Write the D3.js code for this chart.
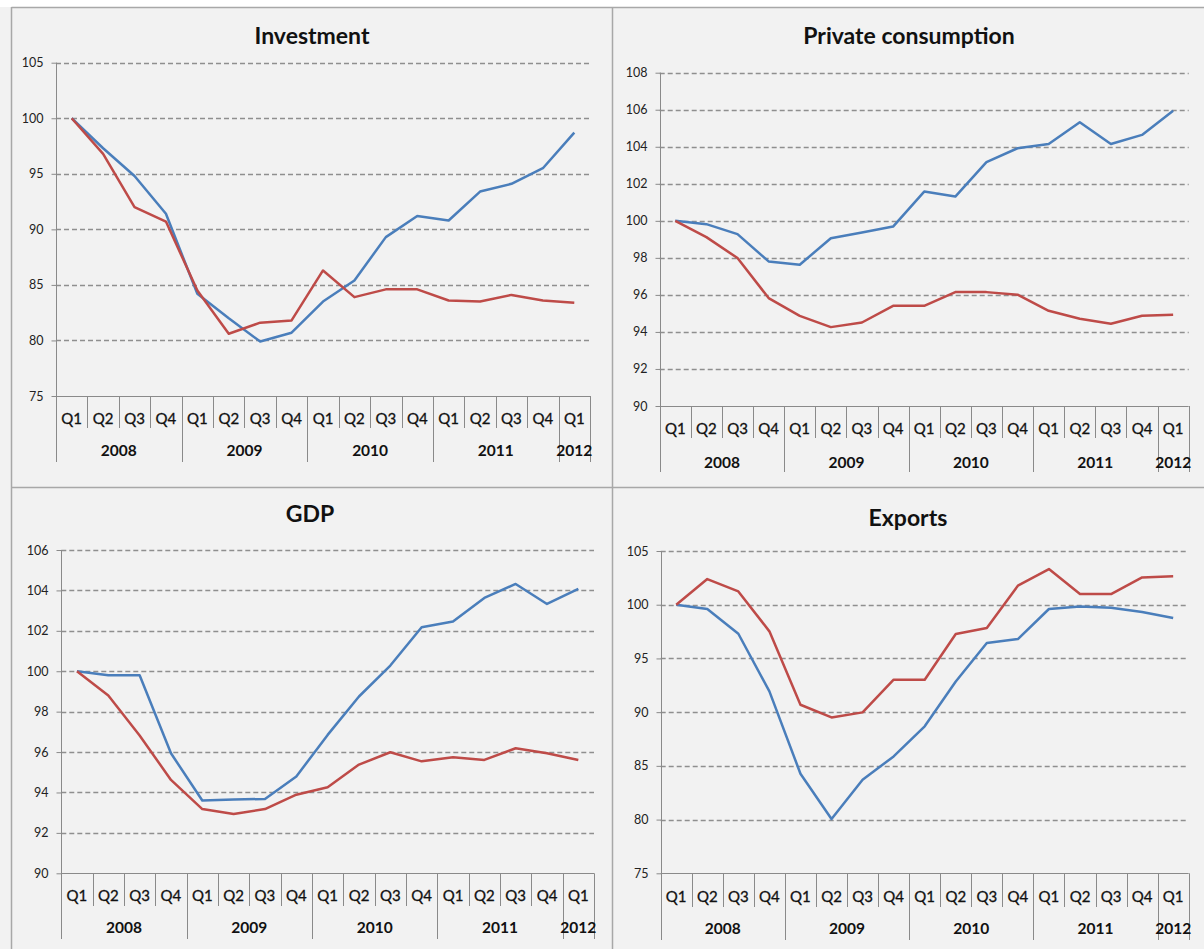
<!DOCTYPE html>
<html lang="en">
<head>
  <meta charset="UTF-8" />
  <title>Investment, consumption, GDP, exports</title>
  <script src="https://d3js.org/d3.v7.min.js"></script>
  <style>
    body { margin: 0; background: #fff; }
    svg { display: block; }
  </style>
</head>
<body>
  <svg id="mySvg" width="1204" height="949"></svg>

  <script>
    // quarters 2008Q1 .. 2012Q1
    const quarters = ["Q1","Q2","Q3","Q4","Q1","Q2","Q3","Q4","Q1","Q2","Q3","Q4","Q1","Q2","Q3","Q4","Q1"];
    const years = ["2008", "2009", "2010", "2011", "2012"];
    const quartersPerYear = [4, 4, 4, 4, 1];

    const investmentTicks = [75, 80, 85, 90, 95, 100, 105];
    const investmentBlue = [100, 97.3, 94.8, 91.4, 84.2, 82.0, 79.9, 80.7, 83.5, 85.4, 89.3, 91.2, 90.8, 93.4, 94.1, 95.5, 98.7];
    const investmentRed  = [100, 96.8, 92.0, 90.7, 84.5, 80.6, 81.6, 81.8, 86.3, 83.9, 84.6, 84.6, 83.6, 83.5, 84.1, 83.6, 83.4];

    const consumptionTicks = [90, 92, 94, 96, 98, 100, 102, 104, 106, 108];
    const consumptionBlue = [100, 99.82, 99.28, 97.81, 97.63, 99.06, 99.37, 99.69, 101.58, 101.31, 103.17, 103.92, 104.15, 105.32, 104.15, 104.64, 105.94];
    const consumptionRed  = [100, 99.12, 97.99, 95.83, 94.87, 94.26, 94.51, 95.41, 95.41, 96.15, 96.15, 96.01, 95.14, 94.71, 94.44, 94.87, 94.93];

    const gdpTicks = [90, 92, 94, 96, 98, 100, 102, 104, 106];
    const gdpBlue = [100, 99.8, 99.8, 95.94, 93.6, 93.65, 93.68, 94.79, 96.85, 98.75, 100.28, 102.18, 102.46, 103.63, 104.32, 103.33, 104.08];
    const gdpRed  = [100, 98.8, 96.82, 94.62, 93.18, 92.94, 93.18, 93.89, 94.26, 95.38, 95.99, 95.54, 95.74, 95.61, 96.19, 95.94, 95.61];

    const exportsTicks = [75, 80, 85, 90, 95, 100, 105];
    const exportsBlue = [100, 99.6, 97.3, 91.93, 84.27, 80.05, 83.71, 85.88, 88.68, 92.86, 96.43, 96.8, 99.6, 99.84, 99.72, 99.32, 98.76];
    const exportsRed  = [100, 102.39, 101.24, 97.52, 90.69, 89.51, 89.98, 93.02, 93.02, 97.27, 97.83, 101.77, 103.32, 100.99, 100.99, 102.54, 102.64];

    const blue = "#4a7ebb";
    const red = "#be4b48";
    const axisColor = "#8a8a8a";
    const borderColor = "#a8a8a8";

    const svg = d3.select("#mySvg");

    // background + panel borders
    svg.append("rect").attr("x", 0).attr("y", 7).attr("width", 1204).attr("height", 942).attr("fill", "#f2f2f2");
    svg.append("line").attr("x1", 11.5).attr("x2", 1204).attr("y1", 7.5).attr("y2", 7.5).attr("stroke", borderColor).attr("stroke-width", 1.5);
    svg.append("line").attr("x1", 11.5).attr("x2", 1204).attr("y1", 487.5).attr("y2", 487.5).attr("stroke", borderColor).attr("stroke-width", 1.5);
    svg.append("line").attr("x1", 11.5).attr("x2", 11.5).attr("y1", 7).attr("y2", 949).attr("stroke", borderColor).attr("stroke-width", 1.5);
    svg.append("line").attr("x1", 612.5).attr("x2", 612.5).attr("y1", 7).attr("y2", 949).attr("stroke", borderColor).attr("stroke-width", 1.5);

    const panels = [
      { title: "Investment", tx: 312, ty: 35, x0: 56, x1: 590, yTop: 62.7, yBot: 396, qY: 418, yrY: 450, shortEnd: 428, longEnd: 462,
        ticks: investmentTicks, a: investmentBlue, b: investmentRed },
      { title: "Private consumption", tx: 909, ty: 35, x0: 659.7, x1: 1188.7, yTop: 72.7, yBot: 406, qY: 428, yrY: 462, shortEnd: 438, longEnd: 472,
        ticks: consumptionTicks, a: consumptionBlue, b: consumptionRed },
      { title: "GDP", tx: 310, ty: 513, x0: 61.3, x1: 594, yTop: 550, yBot: 873.3, qY: 895, yrY: 927, shortEnd: 906, longEnd: 939,
        ticks: gdpTicks, a: gdpBlue, b: gdpRed },
      { title: "Exports", tx: 908, ty: 517, x0: 660.7, x1: 1188.7, yTop: 551, yBot: 873.3, qY: 896, yrY: 928, shortEnd: 907, longEnd: 940,
        ticks: exportsTicks, a: exportsBlue, b: exportsRed }
    ];

    panels.forEach(p => {
      const g = svg.append("g");

      const x = d3.scaleBand().domain(d3.range(quarters.length)).range([p.x0, p.x1]).padding(0);
      const y = d3.scaleLinear().domain(d3.extent(p.ticks)).range([p.yBot, p.yTop]);

      g.append("text")
        .attr("x", p.tx).attr("y", p.ty)
        .attr("text-anchor", "middle").attr("dominant-baseline", "central")
        .style("font-family", "Lato, sans-serif").style("font-weight", "bold").style("font-size", "23px")
        .attr("fill", "#111")
        .text(p.title);

      // dashed gridlines
      g.selectAll(".grid")
        .data(p.ticks.filter(t => t !== p.ticks[0]))
        .join("line")
        .attr("x1", p.x0).attr("x2", p.x1)
        .attr("y1", d => Math.round(y(d)) + 0.5).attr("y2", d => Math.round(y(d)) + 0.5)
        .attr("stroke", "#8f8f8f").attr("stroke-width", 1.3).attr("stroke-dasharray", "5,3");

      // y axis
      const yAxis = g.append("g")
        .attr("transform", `translate(${Math.round(p.x0) + 0.5},0)`)
        .call(d3.axisLeft(y).tickValues(p.ticks).tickSize(5).tickPadding(8).tickSizeOuter(0));
      yAxis.select(".domain").remove();
      yAxis.selectAll(".tick line").attr("stroke", axisColor);
      yAxis.selectAll(".tick text")
        .style("font-family", "Lato, sans-serif").style("font-size", "12.5px").attr("fill", "#222");
      g.append("line")
        .attr("x1", Math.round(p.x0) + 0.5).attr("x2", Math.round(p.x0) + 0.5)
        .attr("y1", p.yTop).attr("y2", p.longEnd)
        .attr("stroke", axisColor);

      // x axis line
      g.append("line")
        .attr("x1", p.x0).attr("x2", p.x1)
        .attr("y1", Math.round(p.yBot) + 0.5).attr("y2", Math.round(p.yBot) + 0.5)
        .attr("stroke", axisColor);

      // category separators: short inside a year, long at year boundaries
      const yearStarts = [0];
      quartersPerYear.forEach((n, i) => yearStarts.push(yearStarts[i] + n));
      const seps = d3.range(1, quarters.length + 1);
      g.selectAll(".sep")
        .data(seps)
        .join("line")
        .attr("x1", d => Math.round(x(d - 1) + x.bandwidth()) + 0.5)
        .attr("x2", d => Math.round(x(d - 1) + x.bandwidth()) + 0.5)
        .attr("y1", p.yBot)
        .attr("y2", d => yearStarts.includes(d) ? p.longEnd : p.shortEnd)
        .attr("stroke", axisColor);

      g.selectAll(".qlab")
        .data(quarters)
        .join("text")
        .attr("x", (d, i) => x(i) + x.bandwidth() / 2)
        .attr("y", p.qY)
        .attr("text-anchor", "middle").attr("dominant-baseline", "central")
        .style("font-family", "Lato, sans-serif").style("font-size", "15px").attr("fill", "#111")
        .attr("stroke", "#111").attr("stroke-width", 0.3)
        .text(d => d);

      g.selectAll(".ylab")
        .data(years)
        .join("text")
        .attr("x", (d, i) => {
          const s = x(yearStarts[i]);
          const e = x(yearStarts[i + 1] - 1) + x.bandwidth();
          return (s + e) / 2;
        })
        .attr("y", p.yrY)
        .attr("text-anchor", "middle").attr("dominant-baseline", "central")
        .style("font-family", "Lato, sans-serif").style("font-weight", "bold").style("font-size", "15.5px").attr("fill", "#111")
        .text(d => d);

      const line = d3.line()
        .x((d, i) => x(i) + x.bandwidth() / 2)
        .y(d => y(d));

      [[p.a, blue], [p.b, red]].forEach(([vals, col]) => {
        g.append("path")
          .datum(vals)
          .attr("d", line)
          .attr("fill", "none")
          .attr("stroke", col)
          .attr("stroke-width", 2.5)
          .attr("stroke-linejoin", "round");
      });
    });
  </script>
</body>
</html>
